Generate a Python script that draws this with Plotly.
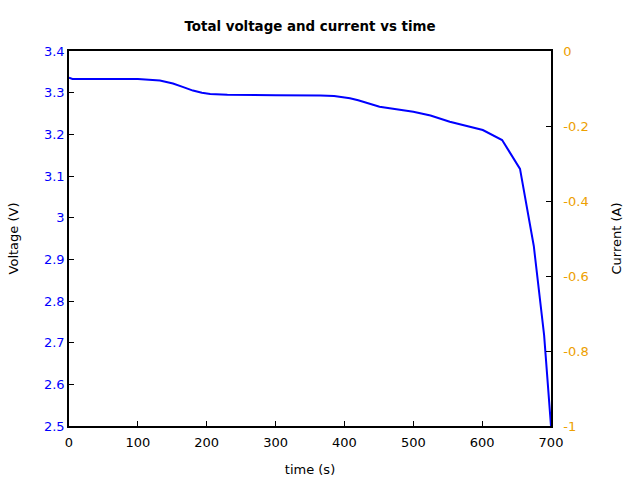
import plotly.graph_objects as go

time_s = [0, 5, 50, 100, 132, 151, 165, 180, 193, 205, 230, 260, 300, 365, 385, 408, 420, 451, 470, 500, 525, 553, 601, 629, 655, 675, 690, 700]
voltage = [3.336, 3.333, 3.333, 3.333, 3.329, 3.322, 3.314, 3.305, 3.300, 3.297, 3.295, 3.294, 3.294, 3.293, 3.292, 3.2865, 3.282, 3.2663, 3.261, 3.2543, 3.245, 3.2303, 3.2104, 3.1864, 3.117, 2.932, 2.718, 2.5]

xticks = [0, 100, 200, 300, 400, 500, 600, 700]
yticks_v = [2.5, 2.6, 2.7, 2.8, 2.9, 3.0, 3.1, 3.2, 3.3, 3.4]
yticklabels_v = ["2.5", "2.6", "2.7", "2.8", "2.9", "3", "3.1", "3.2", "3.3", "3.4"]
yticks_c = [0, -0.2, -0.4, -0.6, -0.8, -1]
yticklabels_c = ["0", "-0.2", "-0.4", "-0.6", "-0.8", "-1"]

BLUE = "#0000ff"
ORANGE = "#eda000"
FONT = "DejaVu Sans"

fig = go.Figure()
fig.add_trace(go.Scatter(x=time_s, y=voltage, mode="lines", line=dict(color=BLUE, width=2),
                         showlegend=False, yaxis="y"))
fig.add_trace(go.Scatter(x=[None], y=[None], mode="lines", showlegend=False, yaxis="y2"))

axis_common = dict(showline=True, linecolor="black", linewidth=1.5, ticks="inside", ticklen=5,
                   tickcolor="black", showgrid=False, zeroline=False, automargin=False)

fig.update_layout(
    width=640, height=480,
    margin=dict(l=69, r=89, t=51, b=54),
    paper_bgcolor="white", plot_bgcolor="white",
    font=dict(family=FONT, size=13, color="black"),
    title=dict(text="<b>Total voltage and current vs time</b>", x=0.5, xref="paper", xanchor="center",
               y=1 - 26 / 480, yanchor="middle", font=dict(size=13.4, family=FONT)),
    xaxis=dict(range=[0, 700], tickvals=xticks, ticktext=[str(t) for t in xticks], mirror=True,
               title=dict(text="time (s)", font=dict(size=13), standoff=16), ticklabelstandoff=4,
               tickfont=dict(size=13, color="black"), **axis_common),
    yaxis=dict(range=[2.5, 3.4], tickvals=yticks_v, ticktext=yticklabels_v,
               title=dict(text="Voltage (V)", font=dict(size=13), standoff=22),
               tickfont=dict(size=13, color=BLUE), **axis_common),
    yaxis2=dict(range=[-1, 0], tickvals=yticks_c, ticktext=yticklabels_c, overlaying="y", side="right",
                title=dict(text="Current (A)", font=dict(size=13), standoff=24), ticklabelstandoff=8,
                tickfont=dict(size=13, color=ORANGE), **axis_common),
)

fig.write_html("out.html")
